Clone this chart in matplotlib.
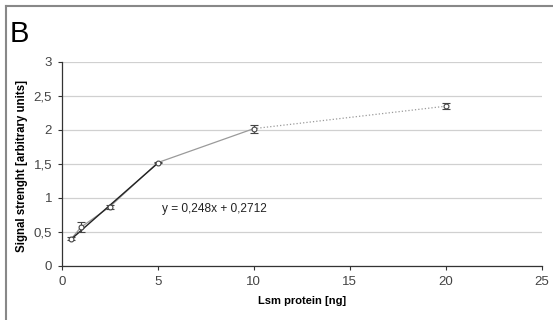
import numpy as np
import matplotlib.pyplot as plt
from matplotlib.ticker import FuncFormatter
from matplotlib.lines import Line2D

plt.rcParams['font.family'] = ['Liberation Sans', 'DejaVu Sans']

# dane
protein_ng = [0.5, 1, 2.5, 5, 10, 20]
signal = [0.40, 0.57, 0.87, 1.52, 2.02, 2.35]
signal_err = [0.02, 0.07, 0.03, 0.01, 0.06, 0.04]
slope = 0.248
intercept = 0.2712
fit_range = [0.5, 5]

fig = plt.figure(figsize=(5.53, 3.2), dpi=100)
ax = fig.add_axes([0.1116, 0.16875, 0.868, 0.6375])

# linia serii: ciagla do 10, kropkowana 10-20
ax.plot(protein_ng[:5], signal[:5], color='#9a9a9a', lw=0.9, zorder=2)
ax.plot(protein_ng[4:], signal[4:], color='#9a9a9a', lw=0.9, ls=':', zorder=2)

# trend liniowy
xf = np.array(fit_range)
ax.plot(xf, slope * xf + intercept, color='#222222', lw=1.0, zorder=3)

ax.errorbar(protein_ng, signal, yerr=signal_err, fmt='o', ms=3.5, mfc='white',
            mec='#444444', mew=0.8, ecolor='#444444', elinewidth=0.8,
            capsize=3, capthick=0.8, zorder=4)

ax.text(5.2, 0.84, 'y = 0,248x + 0,2712', fontsize=8.6, color='#222222',
        ha='left', va='center')

ax.set_xlim(0, 25)
ax.set_ylim(0, 3)
ax.set_xticks([0, 5, 10, 15, 20, 25])
ax.set_yticks(np.arange(0, 3.01, 0.5))
fmt = FuncFormatter(lambda v, p: ('%g' % v).replace('.', ','))
ax.xaxis.set_major_formatter(fmt)
ax.yaxis.set_major_formatter(fmt)
ax.yaxis.grid(True, color='#d0d0d0', lw=0.9)
ax.set_axisbelow(True)
for s in ['top', 'right']:
    ax.spines[s].set_visible(False)
for s in ['left', 'bottom']:
    ax.spines[s].set_color('#333333')
    ax.spines[s].set_linewidth(0.9)
ax.tick_params(direction='out', length=3, width=0.8, color='#333333',
               labelsize=9.5, labelcolor='#444444', pad=4)

ax.set_xlabel('Lsm protein [ng]', fontsize=8, fontweight='bold', labelpad=6)
ax.set_ylabel('Signal strenght [arbitrary units]', fontsize=8.3, fontweight='bold')
ax.yaxis.set_label_coords(-0.07, 0.49)

fig.text(0.018, 0.87, 'B', fontsize=21, ha='left', va='baseline')

# ramka (tylko lewa i gorna krawedz widoczna)
fig.add_artist(Line2D([0.011, 0.011], [0, 0.98], color='#888888', lw=1.5,
                      transform=fig.transFigure))
fig.add_artist(Line2D([0.011, 1.0], [0.98, 0.98], color='#888888', lw=1.5,
                      transform=fig.transFigure))

fig.savefig('out.png', dpi=100)
